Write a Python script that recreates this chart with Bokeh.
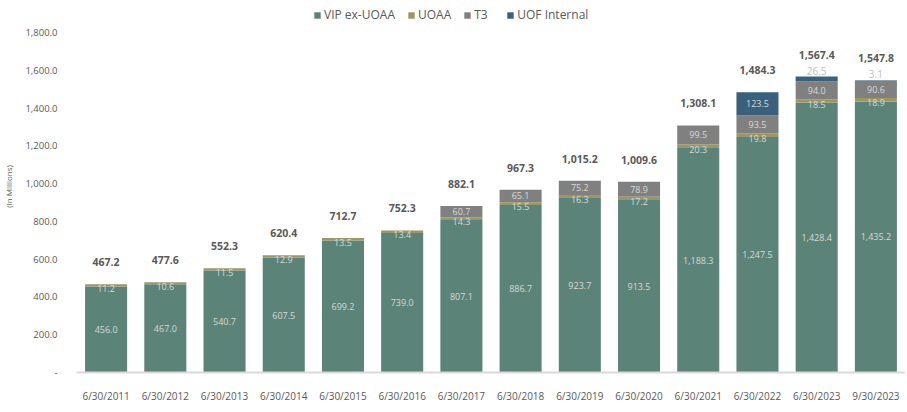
from bokeh.plotting import figure
from bokeh.models import ColumnDataSource, FactorRange, Range1d, Legend, LegendItem, FixedTicker
from bokeh.core.properties import value
from bokeh.embed import file_html
from bokeh.resources import INLINE

dates = ["6/30/2011", "6/30/2012", "6/30/2013", "6/30/2014", "6/30/2015", "6/30/2016",
         "6/30/2017", "6/30/2018", "6/30/2019", "6/30/2020", "6/30/2021", "6/30/2022",
         "6/30/2023", "9/30/2023"]
vip = [456.0, 467.0, 540.7, 607.5, 699.2, 739.0, 807.1, 886.7, 923.7, 913.5, 1188.3, 1247.5, 1428.4, 1435.2]
uoaa = [11.2, 10.6, 11.5, 12.9, 13.5, 13.4, 14.3, 15.5, 16.3, 17.2, 20.3, 19.8, 18.5, 18.9]
t3 = [0, 0, 0, 0, 0, 0, 60.7, 65.1, 75.2, 78.9, 99.5, 93.5, 94.0, 90.6]
uof = [0, 0, 0, 0, 0, 0, 0, 0, 0, 0, 0, 123.5, 26.5, 3.1]
totals = [467.2, 477.6, 552.3, 620.4, 712.7, 752.3, 882.1, 967.3, 1015.2, 1009.6, 1308.1, 1484.3, 1567.4, 1547.8]
series = ["VIP ex-UOAA", "UOAA", "T3", "UOF Internal"]
colors = ["#5B8377", "#9C9667", "#808080", "#3B607B"]
yticks = [0, 200, 400, 600, 800, 1000, 1200, 1400, 1600, 1800]

FONT = "Open Sans"
TXT = "#595959"
IN_TXT = "#D9D9D9"

src = ColumnDataSource(dict(date=dates, vip=vip, uoaa=uoaa, t3=t3, uof=uof))

# frame extends to the top of the canvas so the legend can sit inside it;
# 1,800 still lands at the same height as in the reference
p = figure(x_range=FactorRange(*dates), y_range=Range1d(0, 1970),
           width=905, height=405, output_backend="svg", toolbar_location=None,
           min_border_left=76, min_border_right=0, min_border_top=0, min_border_bottom=23)
p.x_range.range_padding = 0
p.outline_line_color = None
p.xgrid.grid_line_color = None
p.ygrid.grid_line_color = None

rs = p.vbar_stack(["vip", "uoaa", "t3", "uof"], x="date", width=0.71, color=colors,
                  line_color=None, source=src)

# segment labels
lx, ly, lt, loff = [], [], [], []
for i, d in enumerate(dates):
    base = 0.0
    for j, v in enumerate([vip[i], uoaa[i], t3[i], uof[i]]):
        if v > 0 and not (j == 3 and v < 50):
            lx.append(d)
            ly.append(base + v / 2)
            lt.append(f"{v:,.1f}")
            loff.append(3 if j == 1 else 0)
        base += v
seg = ColumnDataSource(dict(x=lx, y=ly, t=lt, off=loff))
p.text(x="x", y="y", text="t", y_offset="off", source=seg, text_align="center",
       text_baseline="middle", text_font=value(FONT), text_font_size="9px", text_color=IN_TXT)

# small UOF labels above bar
ax, ay, at = [], [], []
for i, d in enumerate(dates):
    if 0 < uof[i] < 50:
        ax.append(d)
        ay.append(vip[i] + uoaa[i] + t3[i] + uof[i])
        at.append(f"{uof[i]:,.1f}")
abv = ColumnDataSource(dict(x=ax, y=ay, t=at))
p.text(x="x", y="y", text="t", y_offset=-6, source=abv, text_align="center",
       text_baseline="middle", text_font=value(FONT), text_font_size="10px", text_color="#BFBFBF")

# totals
tot = ColumnDataSource(dict(x=dates, y=totals, t=[f"{v:,.1f}" for v in totals]))
p.text(x="x", y="y", text="t", y_offset=-22, source=tot, text_align="center",
       text_baseline="middle", text_font=value(FONT), text_font_size="10.5px",
       text_font_style="bold", text_color=TXT)

# axes
p.yaxis.ticker = FixedTicker(ticks=yticks)
p.yaxis.major_label_overrides = {t: ("-" if t == 0 else f"{t:,.1f}") for t in yticks}
p.yaxis.axis_line_color = None
p.yaxis.major_tick_line_color = None
p.yaxis.minor_tick_line_color = None
p.yaxis.major_label_text_font = FONT
p.yaxis.major_label_text_font_size = "9.5px"
p.yaxis.major_label_text_color = TXT
p.yaxis.major_label_standoff = 13
p.yaxis.axis_label = "(In Millions)"
p.yaxis.axis_label_text_font = FONT
p.yaxis.axis_label_text_font_size = "8px"
p.yaxis.axis_label_text_font_style = "normal"
p.yaxis.axis_label_text_color = TXT
p.yaxis.axis_label_standoff = 8

p.xaxis.axis_line_color = "#D9D9D9"
p.xaxis.axis_line_width = 2
p.xaxis.major_tick_line_color = None
p.xaxis.minor_tick_line_color = None
p.xaxis.major_label_text_font = FONT
p.xaxis.major_label_text_font_size = "10px"
p.xaxis.major_label_text_color = TXT
p.xaxis.major_label_standoff = 10

legend = Legend(items=[LegendItem(label=s, renderers=[r]) for s, r in zip(series, rs)],
                orientation="horizontal", location=(237, 349),
                glyph_width=8, glyph_height=8, label_standoff=3, spacing=12,
                padding=0, margin=0, border_line_color=None, background_fill_alpha=0,
                label_text_font=FONT, label_text_font_size="12px", label_text_color=TXT)
p.add_layout(legend, "center")

open("out.html", "w").write(file_html(p, INLINE))
